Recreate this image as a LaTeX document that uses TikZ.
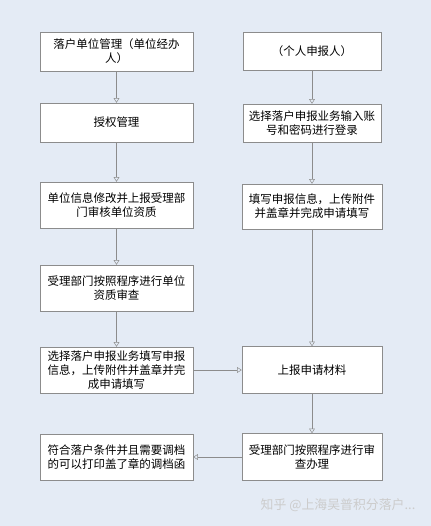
\documentclass[tikz,border=0pt]{standalone}
\usepackage{fontspec}
\newfontfamily\cjk{Noto Sans CJK SC}
\usetikzlibrary{arrows.meta}
\definecolor{bgblue}{HTML}{E4EBF5}
\definecolor{linegray}{HTML}{8C8C8C}
\tikzset{
    flowbox/.style={draw=linegray, fill=white, align=center, inner sep=0pt,
                    font=\cjk\fontsize{9.8}{12}\selectfont},
    leftbox/.style={flowbox, minimum width=4.59cm},
    rightbox/.style={flowbox, minimum width=4.2cm},
    flowarrow/.style={draw=linegray, -{Triangle[open, length=4pt, width=5pt]}}
}

\begin{document}
\begin{tikzpicture}[x=0.03cm, y=-0.03cm]
    % Background
    \fill[bgblue] (0,0) rectangle (431,526);
    \useasboundingbox (0,0) rectangle (431,526);

    % Left column (unit)
    \node[leftbox, minimum height=1.17cm] (l1) at (116.5,51.5) {落户单位管理（单位经办\\人）};
    \node[leftbox, minimum height=1.17cm] (l2) at (116.5,122.5) {授权管理};
    \node[leftbox, minimum height=1.38cm] (l3) at (116.5,205) {单位信息修改并上报受理部\\门审核单位资质};
    \node[leftbox, minimum height=1.38cm] (l4) at (116.5,288) {受理部门按照程序进行单位\\资质审查};
    \node[leftbox, minimum height=1.38cm] (l5) at (116.5,370) {选择落户申报业务填写申报\\信息，上传附件并盖章并完\\成申请填写};
    \node[leftbox, minimum height=1.38cm] (l6) at (116.5,457) {符合落户条件并且需要调档\\的可以打印盖了章的调档函};

    % Right column (person)
    \node[rightbox, minimum width=4.14cm, minimum height=1.14cm] (r1) at (312,51) {（个人申报人）};
    \node[rightbox, minimum width=4.14cm, minimum height=1.14cm] (r2) at (312,123) {选择落户申报业务输入账\\号和密码进行登录};
    \node[rightbox, minimum height=1.35cm] (r3) at (312,206.5) {填写申报信息，上传附件\\并盖章并完成申请填写};
    \node[rightbox, minimum height=1.41cm] (r4) at (312,370) {上报申请材料};
    \node[rightbox, minimum height=1.41cm] (r5) at (312,457) {受理部门按照程序进行审\\查办理};

    % Arrows
    \draw[flowarrow] (l1) -- (l2);
    \draw[flowarrow] (l2) -- (l3);
    \draw[flowarrow] (l3) -- (l4);
    \draw[flowarrow] (l4) -- (l5);
    \draw[flowarrow] (r1) -- (r2);
    \draw[flowarrow] (r2) -- (r3);
    \draw[flowarrow] (r3) -- (r4);
    \draw[flowarrow] (r4) -- (r5);
    \draw[flowarrow] (l5) -- (r4);
    \draw[flowarrow] (r5) -- (l6);

    % Watermark
    \node[font=\cjk\fontsize{11}{13}\selectfont, text=black!20] (wm) at (338,505) {知乎 @上海吴普积分落户...};
\end{tikzpicture}
\end{document}
